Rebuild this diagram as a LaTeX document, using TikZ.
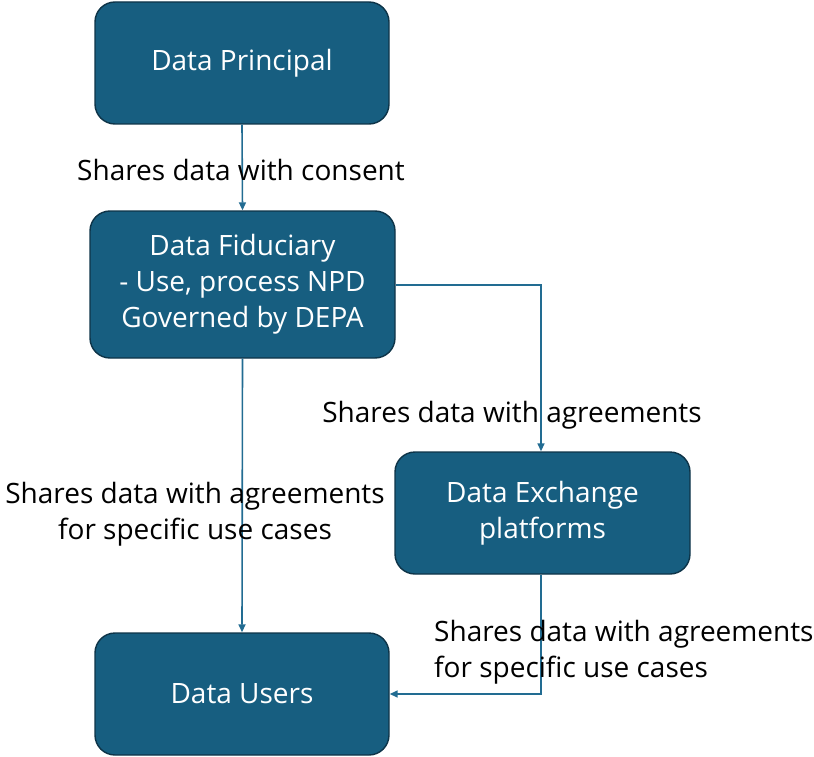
\documentclass[tikz,border=0pt]{standalone}
\usepackage{fontspec}
\setmainfont{Open Sans}
\usetikzlibrary{arrows.meta}
\definecolor{boxfill}{RGB}{23,94,128}
\definecolor{boxline}{RGB}{14,52,72}
\definecolor{arrowc}{RGB}{34,108,146}
\tikzset{
  x=1pt,y=1pt,
  flowbox/.style={draw=boxline, line width=1.4pt, fill=boxfill, rounded corners=20pt,
    text=white, align=center, inner sep=0pt,
    font=\fontsize{28}{36}\selectfont},
  conn/.style={draw=arrowc, line width=1.6pt, -{Triangle[length=8pt,width=7pt]}},
  lbl/.style={text=black, font=\fontsize{28}{36}\selectfont, inner sep=0pt}
}
\begin{document}
\begin{tikzpicture}
\useasboundingbox (0,0) rectangle (814,-757);
\node[flowbox, minimum width=294pt, minimum height=122pt] (dp) at (242,-63) {Data Principal};
\node[flowbox, minimum width=305pt, minimum height=147pt] (df) at (242.5,-284.5) {Data Fiduciary\\- Use, process NPD\\Governed by DEPA};
\node[flowbox, minimum width=295pt, minimum height=122pt] (de) at (542.5,-513) {Data Exchange\\platforms};
\node[flowbox, minimum width=294pt, minimum height=122pt] (du) at (242,-694) {Data Users};

\coordinate (c1) at (541,-285);
\coordinate (c2) at (541,-694);

\draw[conn] (dp.south) -- (df.north);
\draw[conn] (df.east |- c1) -- (c1) -- (c1 |- de.north);
\draw[conn] (df.south) -- (du.north);
\draw[conn] (c1 |- de.south) -- (c2) -- (du.east |- c2);

\node[lbl, anchor=base] (l1) at (241,-180) {Shares data with consent};
\node[lbl, anchor=base] (l2) at (512,-422) {Shares data with agreements};
\node[lbl, anchor=base, align=center] (l3) at (195,-539) {Shares data with agreements\\for specific use cases};
\node[lbl, anchor=base west, align=left] (l4) at (434,-677) {Shares data with agreements\\for specific use cases};
\end{tikzpicture}
\end{document}
